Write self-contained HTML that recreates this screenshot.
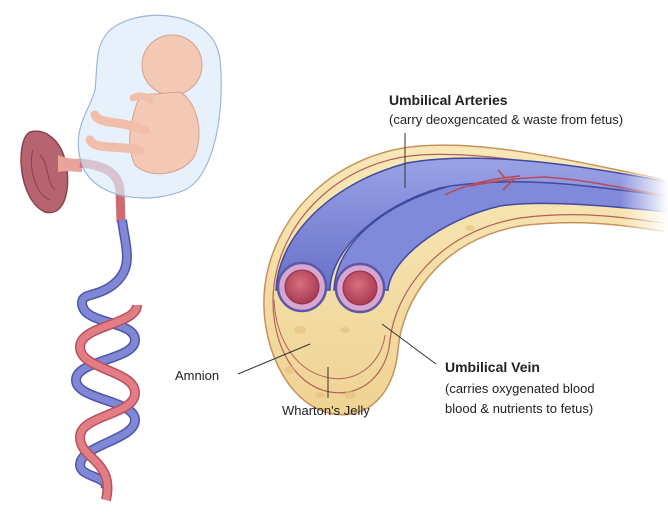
<!DOCTYPE html>
<html><head><meta charset="utf-8"><style>
html,body{margin:0;padding:0;background:#fff;}
svg{display:block;}
text{font-family:"Liberation Sans",sans-serif;fill:#222;}
</style></head><body>
<svg width="668" height="518" viewBox="0 0 668 518" xmlns="http://www.w3.org/2000/svg">
<defs>
<linearGradient id="jel" x1="0" y1="0" x2="0" y2="1"><stop offset="0" stop-color="#f8e8b8"/><stop offset="1" stop-color="#efd393"/></linearGradient>
<linearGradient id="blu" x1="0" y1="0" x2="0" y2="1"><stop offset="0" stop-color="#9aa2e6"/><stop offset="1" stop-color="#6770c8"/></linearGradient>
<radialGradient id="lum" cx="0.45" cy="0.4" r="0.6"><stop offset="0" stop-color="#d8707e"/><stop offset="1" stop-color="#a83a52"/></radialGradient>
<linearGradient id="fade" x1="0" y1="0" x2="1" y2="0"><stop offset="0" stop-color="#fff" stop-opacity="0"/><stop offset="1" stop-color="#fff" stop-opacity="1"/></linearGradient>
</defs>

<!-- Cord cross-section -->
<path d="M668,180 C600,168 500,140 420,146 C340,152 275,210 265,285 C258,340 285,405 333,414 C375,420 395,385 398,350 C402,300 440,240 520,226 C580,218 630,226 668,232 Z" fill="url(#jel)" stroke="#c9915a" stroke-width="1.5"/>
<path d="M668,187 C600,176 500,150 420,155 C345,160 283,215 274,285 C268,335 290,385 330,392 C365,398 388,370 390,340 C395,295 435,232 520,218 C580,210 630,218 668,224" fill="none" stroke="#b5605a" stroke-width="1.2"/>
<path d="M274,300 C276,340 296,372 330,378 C360,383 382,360 385,335" fill="none" stroke="#b5605a" stroke-width="1"/>
<g fill="#e6c07e" opacity="0.6">
<ellipse cx="300" cy="330" rx="6" ry="4"/><ellipse cx="345" cy="330" rx="5" ry="3"/><ellipse cx="290" cy="370" rx="5" ry="4"/><ellipse cx="350" cy="395" rx="6" ry="4"/><ellipse cx="420" cy="240" rx="6" ry="3"/><ellipse cx="470" cy="228" rx="5" ry="3"/><ellipse cx="320" cy="395" rx="5" ry="3"/></g>
<!-- vessels -->
<path d="M276,290 C278,240 325,185 407,163 C480,150 580,165 668,182 L668,198 C580,188 480,180 440,188 C380,205 330,250 330,290 Z" fill="url(#blu)" stroke="#3f4aa0" stroke-width="1.5"/>
<path d="M334,290 C336,245 380,205 450,186 C530,175 600,188 668,196 L668,212 C600,205 540,200 500,206 C440,220 390,260 388,290 Z" fill="#8189da" stroke="#3f4aa0" stroke-width="1.5"/>
<path d="M445,195 C470,182 500,178 520,176 M470,186 C500,180 520,178 545,177 C590,180 630,190 668,196 M505,178 L498,170 M515,178 L503,190" fill="none" stroke="#b54c5c" stroke-width="1.6"/>
<rect x="620" y="150" width="48" height="90" fill="url(#fade)"/>
<circle cx="302" cy="287" r="24" fill="#d9a6d0" stroke="#5c58a8" stroke-width="2.5"/>
<circle cx="302" cy="287" r="17" fill="url(#lum)" stroke="#8c3050" stroke-width="1"/>
<circle cx="360" cy="288" r="24" fill="#d9a6d0" stroke="#5c58a8" stroke-width="2.5"/>
<circle cx="360" cy="288" r="17" fill="url(#lum)" stroke="#8c3050" stroke-width="1"/>

<!-- labels -->
<text x="389" y="105" font-size="14" font-weight="bold">Umbilical Arteries</text>
<text x="389" y="124" font-size="13">(carry deoxgencated &amp; waste from fetus)</text>
<line x1="405" y1="133" x2="405" y2="188" stroke="#333" stroke-width="1"/>
<text x="445" y="372" font-size="14" font-weight="bold">Umbilical Vein</text>
<text x="445" y="393" font-size="13">(carries oxygenated blood</text>
<text x="445" y="413" font-size="13">blood &amp; nutrients to fetus)</text>
<line x1="436" y1="364" x2="382" y2="324" stroke="#333" stroke-width="1"/>
<text x="175" y="380" font-size="13">Amnion</text>
<line x1="238" y1="374" x2="310" y2="344" stroke="#333" stroke-width="1"/>
<text x="282" y="415" font-size="13">Wharton's Jelly</text>
<line x1="328" y1="398" x2="328" y2="367" stroke="#333" stroke-width="1"/>

<!-- Left: placenta -->
<path d="M30,132 C15,140 18,200 45,212 C70,218 70,175 65,160 C60,140 45,128 30,132 Z" fill="#b76471" stroke="#8a4252" stroke-width="1.5"/>
<path d="M33,150 C28,165 35,195 50,200 M40,155 C50,165 45,180 55,190" fill="none" stroke="#8a4252" stroke-width="1"/>
<path d="M58,155 C65,158 75,160 82,158 L82,172 C75,172 65,170 58,172 Z" fill="#e8a49a"/>
<!-- cord upper red -->
<path d="M80,163 C100,165 118,170 120,190 L121,222" fill="none" stroke="#cf6a72" stroke-width="9"/>
<!-- sac -->
<path d="M110,30 C140,5 215,10 220,60 C225,110 215,175 185,190 C150,205 95,200 82,165 C70,130 90,110 95,90 C98,60 95,45 110,30 Z" fill="#dcebfa" fill-opacity="0.7" stroke="#9fb6d6" stroke-width="1.2"/>
<!-- fetus -->
<ellipse cx="172" cy="65" rx="30" ry="30" fill="#f3c9b6" stroke="#d9a08d"/>
<path d="M140,95 C130,120 125,145 135,165 C150,180 185,175 195,155 C205,130 195,100 180,92 Z" fill="#f3c9b6" stroke="#d9a08d"/>
<path d="M145,130 C120,120 100,125 95,115 M140,150 C115,145 95,150 90,140" fill="none" stroke="#f0bea9" stroke-width="9" stroke-linecap="round"/>
<path d="M150,100 C145,95 138,95 133,98" fill="none" stroke="#f0bea9" stroke-width="7" stroke-linecap="round"/>
<!-- blue cord + helix -->
<g fill="none">
<path id="bl" d="M122,220 C126,250 135,270 110,287 C95,297 82,293 82,303 C82,325 135,320 135,340 C135,360 76,360 76,380 C76,400 135,400 135,420 C135,440 80,445 80,465 C80,478 112,476 105,490" stroke="#4c55a8" stroke-width="10"/>
<path d="M122,220 C126,250 135,270 110,287 C95,297 82,293 82,303 C82,325 135,320 135,340 C135,360 76,360 76,380 C76,400 135,400 135,420 C135,440 80,445 80,465 C80,478 112,476 105,490" stroke="#8088d6" stroke-width="7"/>
<path d="M137,305 C137,325 80,325 80,347 C80,370 135,370 135,393 C135,415 80,415 80,437 C80,460 115,460 106,500" stroke="#b9505d" stroke-width="10"/>
<path d="M137,305 C137,325 80,325 80,347 C80,370 135,370 135,393 C135,415 80,415 80,437 C80,460 115,460 106,500" stroke="#e27d86" stroke-width="7"/>
</g>
</svg>
</body></html>
